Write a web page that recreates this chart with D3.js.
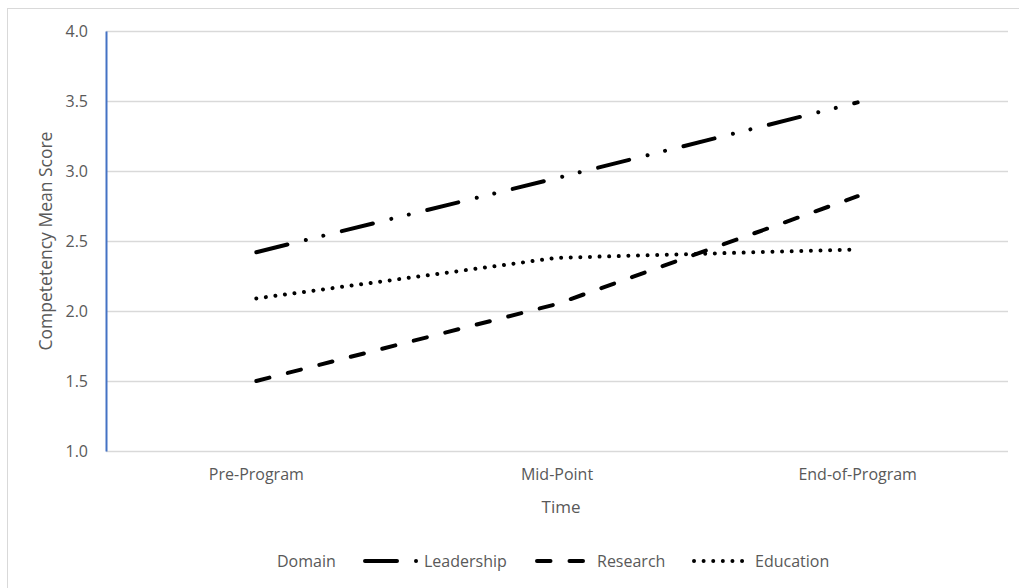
<!DOCTYPE html>
<html>
<head>
<meta charset="utf-8">
<script src="https://cdn.jsdelivr.net/npm/d3@7"></script>
<style>
  html, body { margin: 0; padding: 0; background: #fff; }
  svg text { font-family: "Open Sans", "Noto Sans", sans-serif; fill: #595959; }
</style>
</head>
<body>
<svg id="chart" width="1019" height="588"></svg>
<script>
// Time points and competency mean scores per domain
const timePoints = ["Pre-Program", "Mid-Point", "End-of-Program"];
const leadership = [2.42, 2.95, 3.49];
const research = [1.50, 2.05, 2.82];
const education = [2.09, 2.38, 2.44];
const yTicks = [1.0, 1.5, 2.0, 2.5, 3.0, 3.5, 4.0];

const series = [
  { name: "Leadership", values: leadership, dash: "32,19,0.01,18,0.01,19" },
  { name: "Research", values: research, dash: "13.5,19" },
  { name: "Education", values: education, dash: "0.01,9.6" }
];

const svg = d3.select("#chart");
const W = 1019, H = 588;
const plot = { left: 106, right: 1008, top: 31, bottom: 451 };

// Outer chart frame
svg.append("rect")
  .attr("x", 7.5).attr("y", 8.5)
  .attr("width", W + 10).attr("height", H + 10)
  .attr("fill", "none").attr("stroke", "#d9d9d9").attr("stroke-width", 1);

const x = d3.scaleBand().domain(timePoints).range([plot.left, plot.right]);
const y = d3.scaleLinear().domain([1, 4]).range([plot.bottom, plot.top]);

// Horizontal gridlines
svg.append("g")
  .selectAll("line").data(yTicks).join("line")
  .attr("x1", plot.left).attr("x2", plot.right)
  .attr("y1", d => y(d) + 0.5).attr("y2", d => y(d) + 0.5)
  .attr("stroke", "#d9d9d9").attr("stroke-width", 1.5);

// Y axis
const yAxis = svg.append("g")
  .attr("transform", `translate(${plot.left},0)`)
  .call(d3.axisLeft(y).tickValues(yTicks).tickFormat(d3.format(".1f")).tickSize(0).tickPadding(18));
yAxis.select(".domain").attr("stroke", "#4472c4").attr("stroke-width", 2);
yAxis.selectAll("text").attr("font-size", 16).attr("fill", "#595959")
  .style("font-family", '"Open Sans", sans-serif');

// X axis labels
const xAxis = svg.append("g")
  .attr("transform", `translate(0,${plot.bottom})`)
  .call(d3.axisBottom(x).tickSize(0).tickPadding(18));
xAxis.select(".domain").remove();
xAxis.selectAll("text").attr("font-size", 16).attr("fill", "#595959")
  .style("font-family", '"Open Sans", sans-serif');

// Axis titles
svg.append("text")
  .attr("transform", `translate(52,${(plot.top + plot.bottom) / 2}) rotate(-90)`)
  .attr("text-anchor", "middle")
  .attr("font-size", 17.5)
  .text("Competetency Mean Score");

svg.append("text")
  .attr("x", (plot.left + plot.right) / 2 + 4).attr("y", 513)
  .attr("text-anchor", "middle")
  .attr("font-size", 17)
  .text("Time");

// Domain lines
const line = d3.line()
  .x((d, i) => x(timePoints[i]) + x.bandwidth() / 2)
  .y(d => y(d));

svg.append("g")
  .selectAll("path").data(series).join("path")
  .attr("d", d => line(d.values))
  .attr("fill", "none")
  .attr("stroke", "#000")
  .attr("stroke-width", 4)
  .attr("stroke-linecap", "round")
  .attr("stroke-linejoin", "round")
  .attr("stroke-dasharray", d => d.dash);

// Legend
const legend = svg.append("g").attr("transform", "translate(0,561)");
legend.append("text").attr("x", 277).attr("y", 5.5).attr("font-size", 16).text("Domain");

const legendItems = [
  { s: series[0], x0: 365, x1: 417, tx: 424 },
  { s: series[1], x0: 537, x1: 586, tx: 597 },
  { s: series[2], x0: 694, x1: 745, tx: 755 }
];
legendItems.forEach(it => {
  legend.append("line")
    .attr("x1", it.x0).attr("x2", it.x1).attr("y1", 0).attr("y2", 0)
    .attr("stroke", "#000").attr("stroke-width", 4)
    .attr("stroke-linecap", "round")
    .attr("stroke-dasharray", it.s.dash);
  legend.append("text").attr("x", it.tx).attr("y", 5.5).attr("font-size", 16).text(it.s.name);
});
</script>
</body>
</html>
